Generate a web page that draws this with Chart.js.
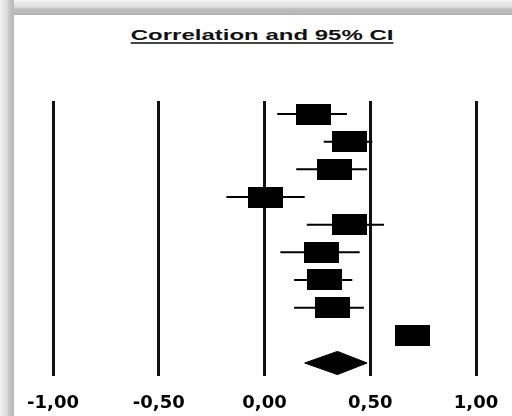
<!DOCTYPE html>
<html>
<head>
<meta charset="utf-8">
<script src="https://cdn.jsdelivr.net/npm/chart.js@4"></script>
<style>
  html, body { margin: 0; padding: 0; background: #fff; }
  #wrap { position: relative; width: 512px; height: 416px; overflow: hidden; background: #fff; }
  #topBand { position: absolute; left: 0; top: 0; width: 512px; height: 15px;
    background: linear-gradient(to bottom, #f4f4f4 0px, #e8e8e8 3px, #dedede 7px, #bdbdbd 9px, #b8b8b8 14px, #a6a6a6 15px); }
  #leftBand { position: absolute; left: 0; top: 0; width: 14px; height: 416px;
    background: linear-gradient(to right, #f2f2f2 0px, #e6e6e6 3px, #dcdcdc 7px, #c6c6c6 9px, #bcbcbc 13px, #b0b0b0 14px); }
  #title { position: absolute; left: 0; top: 26px; width: 524px; text-align: center;
    font: bold 15px "Liberation Sans", Arial, sans-serif; color: #111; }
  #title span { display: inline-block; transform: scaleX(1.6); text-decoration: underline;
    text-decoration-thickness: 2px; text-underline-offset: 2px; text-decoration-color: #444; }
  canvas { position: absolute; left: 0; top: 0; }
</style>
</head>
<body>
<div id="wrap">
  <div id="topBand"></div>
  <div id="leftBand"></div>
  <div id="title"><span>Correlation and 95% CI</span></div>
  <canvas id="forestChart" width="512" height="416"></canvas>
</div>
<script>
// Data for the chart: one row per study, pooled estimate last
const rows = [1, 2, 3, 4, 5, 6, 7, 8, 9];
const estimates = [0.23, 0.40, 0.33, 0.005, 0.40, 0.27, 0.285, 0.32, 0.70];
const lowerCI = [0.06, 0.28, 0.15, -0.18, 0.20, 0.075, 0.14, 0.14, 0.64];
const upperCI = [0.39, 0.51, 0.485, 0.19, 0.565, 0.45, 0.415, 0.47, 0.76];
const pooledRow = 10;
const pooled = { est: 0.345, lo: 0.19, hi: 0.485 };
const tickValues = [-1, -0.5, 0, 0.5, 1];

// Box marker for each study
const box = document.createElement('canvas');
box.width = 35;
box.height = 21;
const bctx = box.getContext('2d');
bctx.fillStyle = '#000';
bctx.fillRect(0, 0, 35, 21);

// CI whiskers, one short line per row
const ciSets = rows.map((r, i) => ({
    data: [{ x: lowerCI[i], y: r }, { x: upperCI[i], y: r }],
    showLine: true,
    borderColor: '#000',
    borderWidth: 2,
    pointRadius: 0
}));

const boxSet = {
    data: rows.map((r, i) => ({ x: estimates[i], y: r })),
    pointStyle: box,
    pointRadius: 5,
    showLine: false
};

// Diamond for the pooled estimate
const half = 0.42;
const diamondSet = {
    data: [
        { x: pooled.lo, y: pooledRow },
        { x: pooled.est, y: pooledRow - half },
        { x: pooled.hi, y: pooledRow },
        { x: pooled.est, y: pooledRow + half },
        { x: pooled.lo, y: pooledRow }
    ],
    showLine: true,
    fill: 'shape',
    backgroundColor: '#000',
    borderColor: '#000',
    borderWidth: 1,
    pointRadius: 0,
    tension: 0
};

const config = {
    type: 'scatter',
    data: { datasets: [...ciSets, boxSet, diamondSet] },
    options: {
        responsive: false,
        animation: false,
        events: [],
        layout: { padding: { top: 101, left: 53, right: 36, bottom: 0 } },
        plugins: { legend: { display: false }, tooltip: { enabled: false }, title: { display: false } },
        scales: {
            x: {
                type: 'linear',
                min: -1,
                max: 1,
                afterFit: s => { s.height = 40; s.paddingLeft = 0; s.paddingRight = 0; },
                afterBuildTicks: s => { s.ticks = tickValues.map(v => ({ value: v })); },
                border: { display: false },
                grid: { color: '#111', lineWidth: 3, drawTicks: false },
                ticks: {
                    padding: 17,
                    color: '#000',
                    font: { family: 'DejaVu Sans', weight: 'bold', size: 18 },
                    callback: v => v.toFixed(2).replace('.', ',')
                }
            },
            y: {
                type: 'linear',
                reverse: true,
                min: 0.53,
                max: 10.47,
                display: false
            }
        }
    }
};

const ctx = document.getElementById('forestChart').getContext('2d');
const forestChart = new Chart(ctx, config);
</script>
</body>
</html>
